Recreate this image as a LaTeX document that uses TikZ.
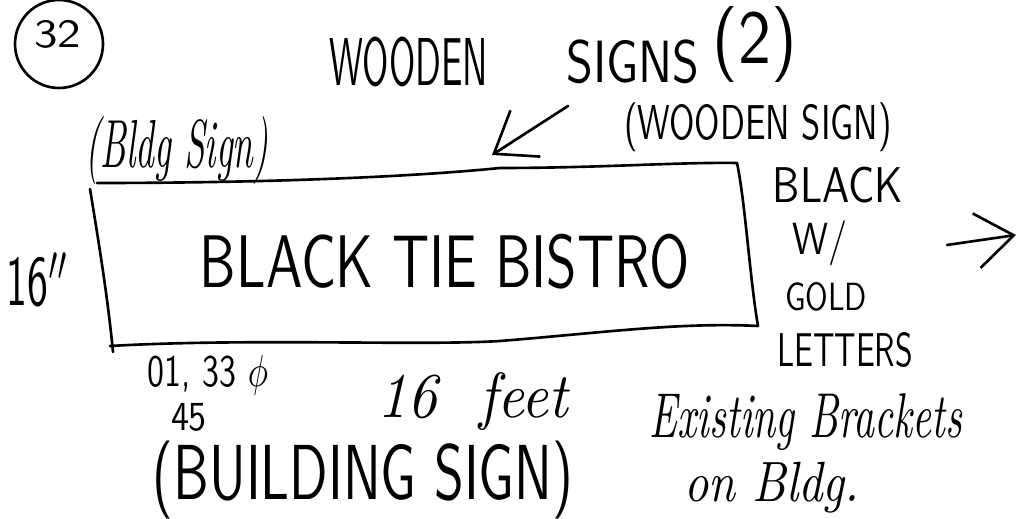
\documentclass[tikz,border=0pt]{standalone}
\usepackage{graphicx}
\usetikzlibrary{arrows.meta}
\newlength\px
\setlength\px{0.02cm}
\newcommand\fitbox[3]{\resizebox*{#1\px}{#2\px}{#3}}

\begin{document}
\begin{tikzpicture}[x=0.02cm, y=-0.02cm]
  \tikzstyle{ink} = [line width=1.5pt, line cap=round, line join=round]
  \tikzstyle{note} = [inner sep=0pt, font=\sffamily]
  \tikzstyle{script} = [inner sep=0pt, font=\itshape]
  \tikzstyle{pointer} = [ink, -{Straight Barb[length=0.75cm, width=1.1cm, line width=1.5pt]}]

  \useasboundingbox (0,0) rectangle (1019,519);

  % Page number
  \node[ink, draw, circle, minimum size=88\px, inner sep=0pt] (ring) at (59,44) {};
  \node[note] (num) at (58,34) {\fitbox{47}{28}{32}};

  % Heading
  \node[note] (wooden) at (409,62) {\fitbox{158}{50}{WOODEN}};
  \node[note] (signs) at (633,62) {\fitbox{133}{44}{SIGNS}};
  \node[note] (count) at (755,45) {\fitbox{84}{76}{(2)}};
  \node[note] (woodsign) at (758,127) {\fitbox{267}{49}{(WOODEN SIGN)}};
  \node[script] (bldgsign) at (177,151) {\fitbox{183}{68}{(Bldg Sign)}};

  % Sign board
  \draw[ink] (97,183) .. controls (250,183) and (400,178) .. (500,168)
    .. controls (600,168) and (680,162) .. (737,163)
    .. controls (745,200) and (750,280) .. (758,326)
    .. controls (680,322) and (600,333) .. (500,341)
    .. controls (420,346) and (250,338) .. (110,346);
  \draw[ink] (90,189) .. controls (100,250) and (108,300) .. (113,352);
  \node[note] (title) at (445,262) {\fitbox{490}{55}{BLACK TIE BISTRO}};

  % Height
  \node[note] (height) at (38,280) {\fitbox{63}{55}{16$''$}};

  % Colour notes
  \foreach \txt/\x/\y/\w/\h [count=\i] in
    {BLACK/838/185/130/36, {W/}/820/243/55/45, GOLD/826/297/82/29, LETTERS/845/350/136/35}
    \node[note] (colour\i) at (\x,\y) {\fitbox{\w}{\h}{\txt}};

  % Arrows
  \coordinate (tail) at (568,106);
  \coordinate (tip) at (492,155);
  \draw[pointer] (tail) -- (tip);
  \coordinate (next) at (947,245);
  \coordinate (nextend) at (1016,235);
  \draw[pointer] (next) -- (nextend);

  % Measurements
  \node[note] (code) at (208,375) {\fitbox{120}{40}{01, 33 $\phi$}};
  \node[note] (fortyfive) at (189,417) {\fitbox{36}{28}{45}};
  \node[script] (length) at (473,402) {\fitbox{190}{58}{16 \ feet}};
  \node[note] (building) at (363,480) {\fitbox{420}{78}{(BUILDING SIGN)}};
  \node[script] (brackets) at (806,422) {\fitbox{312}{57}{Existing Brackets}};
  \node[script] (onbldg) at (772,488) {\fitbox{175}{51}{on Bldg.}};

\end{tikzpicture}
\end{document}
